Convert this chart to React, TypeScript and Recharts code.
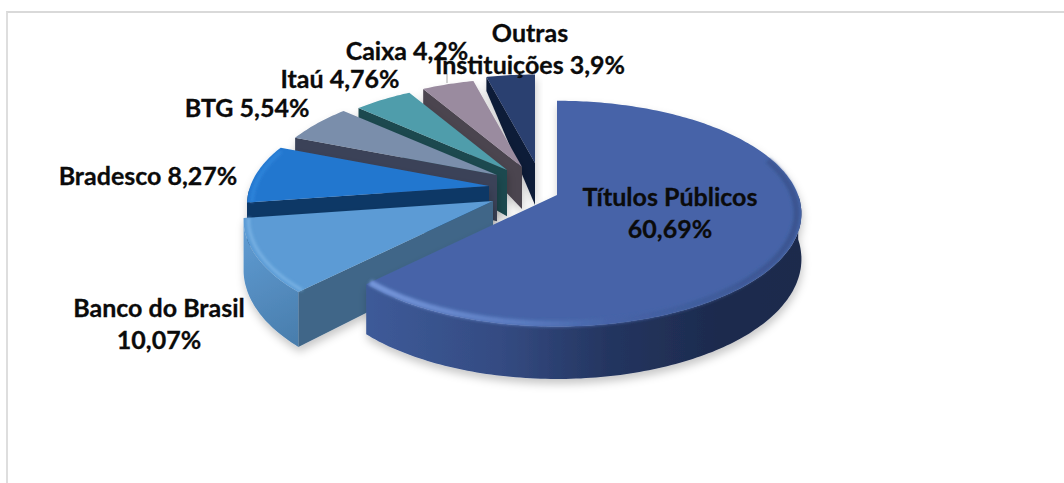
import { PieChart, Pie } from "recharts";

// drawn counter-clockwise from 12 o'clock, so the big slice paints last
const categories = ["Outras Instituições", "Caixa", "Itaú", "BTG", "Bradesco", "Banco do Brasil", "Títulos Públicos"];
const shares = [3.9, 4.2, 4.76, 5.54, 8.27, 10.07, 60.69];
const labelRows = [
  ["Outras", "Instituições 3,9%"],
  ["Caixa 4,2%"],
  ["Itaú 4,76%"],
  ["BTG 5,54%"],
  ["Bradesco 8,27%"],
  ["Banco do Brasil", "10,07%"],
  ["Títulos Públicos", "60,69%"],
];

const topColors = ["#2b3f6f", "#9a8b9f", "#4f9dab", "#7a8eab", "#2477cf", "#5b9bd5", "#4664a8"];
const wallColors = ["#2b3f6f", "#4c4450", "#1f4a50", "#3b4358", "#0f3866", "url(#bancoWall)", "url(#bigWall)"];
const faceColors = ["#111d38", "#4c4450", "#1f4a50", "#3b4358", "#0f3866", "#3f6688", "#2b3f6f"];
const rimColors = ["#33487a", "#a597aa", "#5aa8b5", "#8597b2", "#2f86dc", "#79b2e4", "url(#bigRim)"];

// explosion of each slice from the pie centre, and how much it shrinks going back
const explode = [[5, -27], [-8, -23], [-23, -20], [-33, -15], [-41, -4], [-37, 11], [27, 5]];
const shrink = [0.92, 0.92, 0.91, 0.94, 0.97, 1, 0.98];
const thickness = [1, 1, 1.1, 1.1, 1, 1.15, 1.05];
const labelSpots = [[530, 32], [407, 50], [340, 78], [247, 107], [148, 175], [159, 307], [670, 196]];

const data = categories.map((name, idx) => ({ name, value: shares[idx], idx }));

const FLATTEN = 112 / 246;
const PERSPECTIVE = 0.165;
const RAD = Math.PI / 180;

const toPath = (pts: number[][]) => "M" + pts.map((p) => p[0].toFixed(1) + "," + p[1].toFixed(1)).join("L") + "Z";
const toLine = (pts: number[][]) => "M" + pts.map((p) => p[0].toFixed(1) + "," + p[1].toFixed(1)).join("L");

const Slice3D = (props: any) => {
  const { cx, cy, outerRadius, startAngle, endAngle, payload } = props;
  const idx = payload?.idx ?? props.idx;
  const R = outerRadius * shrink[idx];
  const ox = cx + explode[idx][0];
  const oy = cy + explode[idx][1];
  const a0 = Math.min(startAngle, endAngle);
  const a1 = Math.max(startAngle, endAngle);

  const project = (deg: number, r: number) => {
    const u = r * Math.cos(deg * RAD);
    const v = -r * Math.sin(deg * RAD);
    const s = 1 / (1 - PERSPECTIVE * v);
    return [ox + R * u * s, oy + R * FLATTEN * v * s, v];
  };
  const drop = (p: number[]) => {
    const d = p[2] < 0 ? 42 + 29 * p[2] : 42 + 8 * p[2];
    return [p[0], p[1] + d * thickness[idx], p[2]];
  };

  const arc: number[][] = [];
  for (let a = a0; a < a1; a += 1) arc.push(project(a, 1));
  arc.push(project(a1, 1));

  const apex = project(a0, 0);
  const top = [apex, ...arc];
  const front = arc.filter((p) => p[2] >= 0);
  const wall = front.length > 1 ? [...front, ...front.map(drop).reverse()] : null;
  const first = arc[0];
  const last = arc[arc.length - 1];
  const faces: number[][][] = [];
  if (Math.cos(a0 * RAD) > 0.001) faces.push([apex, first, drop(first), drop(apex)]);
  if (Math.cos(a1 * RAD) < -0.001) faces.push([apex, last, drop(last), drop(apex)]);
  // bevel highlight only on the part of the rim facing the viewer
  const rim = arc
    .filter((p) => p[2] > -0.35)
    .map((p) => [apex[0] + (p[0] - apex[0]) * 0.98, apex[1] + (p[1] - apex[1]) * 0.98]);

  return (
    <g filter="url(#pieShadow)">
      {faces.map((f, i) => (
        <path key={i} d={toPath(f)} fill={faceColors[idx]} />
      ))}
      {wall && <path d={toPath(wall)} fill={wallColors[idx]} />}
      <path d={toPath(top)} fill={topColors[idx]} />
      {rim.length > 1 && (
        <path d={toLine(rim)} fill="none" stroke={rimColors[idx]} strokeWidth={idx === 6 ? 6 : 3} filter="url(#rimBlur)" />
      )}
    </g>
  );
};

const renderLabel = (props: any) => {
  const idx = props.payload?.idx ?? props.index;
  const [x, y] = labelSpots[idx];
  const rows = labelRows[idx];
  return (
    <g key={idx}>
      {idx === 0 && <line x1={447} y1={74} x2={447} y2={83} stroke="#a6a6a6" />}
      {rows.map((row, i) => (
        <text
          key={row}
          x={x}
          y={y + i * 32}
          textAnchor="middle"
          dominantBaseline="central"
          fontFamily="Lato, sans-serif"
          fontWeight={700}
          fontSize={25}
          fill="#0b0b0b"
          stroke="#0b0b0b"
          strokeWidth={0.3}
        >
          {row}
        </text>
      ))}
    </g>
  );
};

const App = () => {
  return (
    <div style={{ position: "absolute", left: 0, top: 0, width: 1064, height: 483, background: "#fff", overflow: "hidden" }}>
      <div
        style={{
          position: "absolute",
          left: 6,
          top: 11,
          right: 0,
          bottom: 0,
          borderTop: "2px solid #d9d9d9",
          borderLeft: "2px solid #dedede",
        }}
      />
      <div style={{ position: "absolute", left: 0, top: 0 }}>
        <PieChart width={1064} height={483} margin={{ top: 0, right: 0, bottom: 0, left: 0 }}>
          <defs>
            <linearGradient id="bigWall" gradientUnits="userSpaceOnUse" x1={372} y1={0} x2={803} y2={0}>
              <stop offset="0%" stopColor="#3d5a98" />
              <stop offset="30%" stopColor="#344b82" />
              <stop offset="55%" stopColor="#243560" />
              <stop offset="80%" stopColor="#1d2b4e" />
              <stop offset="100%" stopColor="#1c2a4c" />
            </linearGradient>
            <linearGradient id="bancoWall" gradientUnits="userSpaceOnUse" x1={245} y1={230} x2={305} y2={345}>
              <stop offset="0%" stopColor="#5f9bd2" />
              <stop offset="100%" stopColor="#487cab" />
            </linearGradient>
            <linearGradient id="bigRim" gradientUnits="userSpaceOnUse" x1={372} y1={0} x2={803} y2={0}>
              <stop offset="0%" stopColor="#7596da" />
              <stop offset="35%" stopColor="#5a7bc0" />
              <stop offset="55%" stopColor="#4664a8" />
              <stop offset="100%" stopColor="#3a5490" />
            </linearGradient>
            <filter id="pieShadow" x="-15%" y="-15%" width="130%" height="140%">
              <feDropShadow dx={1} dy={5} stdDeviation={4} floodColor="#000" floodOpacity={0.22} />
            </filter>
            <filter id="rimBlur" x="-10%" y="-10%" width="120%" height="120%">
              <feGaussianBlur stdDeviation={1.4} />
            </filter>
          </defs>
          <Pie
            data={data}
            dataKey="value"
            nameKey="name"
            cx={530}
            cy={190}
            innerRadius={0}
            outerRadius={246}
            startAngle={90}
            endAngle={450}
            stroke="none"
            shape={Slice3D}
            label={renderLabel}
            labelLine={false}
            isAnimationActive={false}
          />
        </PieChart>
      </div>
    </div>
  );
};

export default App;
